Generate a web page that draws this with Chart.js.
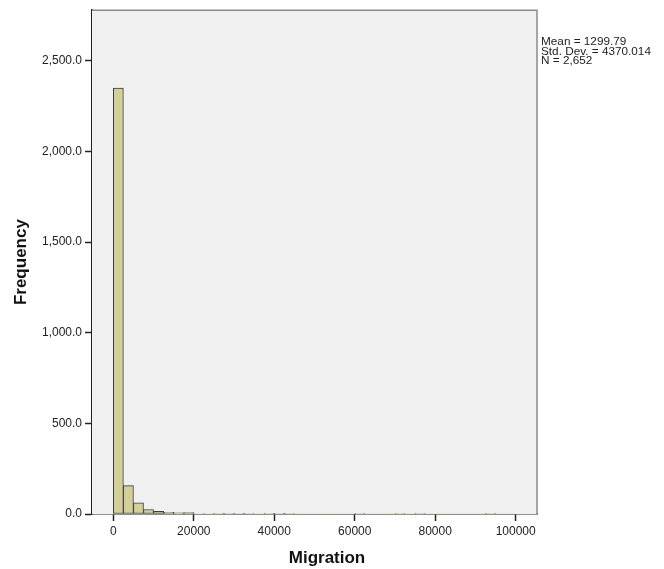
<!DOCTYPE html>
<html>
<head>
<meta charset="utf-8">
<title>Migration histogram</title>
<script src="https://cdn.jsdelivr.net/npm/chart.js@4/dist/chart.umd.min.js"></script>
<style>
  body { margin: 0; background: #fff; }
  canvas { display: block; }
</style>
</head>
<body>
<canvas id="histChart" width="664" height="569"></canvas>
<script>
// histogram bins of width 2500, starting at 0
const binWidth = 2500;
const counts = [2350, 157, 61, 25, 15, 9, 6, 8, 3, 3,
                2, 2, 1, 1, 0, 2, 2, 1, 0, 0,
                0, 0, 0, 0, 1, 0, 0, 0, 1, 0,
                1, 0, 0, 0, 0, 0, 0, 1, 0, 0];
const xTicks = [0, 20000, 40000, 60000, 80000, 100000];
const yTicks = [0, 500, 1000, 1500, 2000, 2500];
const statLines = ['Mean = 1299.79', 'Std. Dev. = 4370.014', 'N = 2,652'];

const bins = counts.map((c, i) => ({ x: i * binWidth + binWidth / 2, y: c }));

const FONT = 'Arial, "Liberation Sans", sans-serif';

// grey plot background, frame, stats box and x title
const frame = {
  id: 'frame',
  beforeDatasetsDraw(chart) {
    const { ctx, chartArea: a } = chart;
    ctx.save();
    ctx.fillStyle = '#f0f0f0';
    ctx.fillRect(a.left, a.top, a.right - a.left, a.bottom - a.top);
    ctx.restore();
  },
  afterDraw(chart) {
    const { ctx, chartArea: a } = chart;
    ctx.save();
    ctx.strokeStyle = '#8a8a8a';
    ctx.lineWidth = 1.5;
    ctx.beginPath();
    ctx.moveTo(a.left, a.top);
    ctx.lineTo(a.right, a.top);
    ctx.lineTo(a.right, a.bottom);
    ctx.stroke();

    // summary statistics, slightly widened like the original font
    ctx.fillStyle = '#222';
    ctx.font = '10.5px ' + FONT;
    ctx.textBaseline = 'alphabetic';
    ctx.translate(a.right + 4, 0);
    ctx.scale(1.12, 1);
    statLines.forEach((s, i) => ctx.fillText(s, 0, 45 + i * 9.6));
    ctx.restore();

    ctx.save();
    ctx.fillStyle = '#111';
    ctx.font = 'bold 17px ' + FONT;
    ctx.textAlign = 'center';
    ctx.textBaseline = 'middle';
    ctx.fillText('Migration', 327, 558);
    ctx.restore();
  }
};

new Chart(document.getElementById('histChart'), {
  type: 'bar',
  data: {
    datasets: [{
      data: bins,
      backgroundColor: '#d3cf98',
      borderColor: '#3c3c3c',
      borderWidth: ctx => (ctx.raw && ctx.raw.y ? 1 : 0),
      borderSkipped: false,
      barPercentage: 1,
      categoryPercentage: 1
    }]
  },
  options: {
    responsive: false,
    animation: false,
    layout: { padding: { top: 10, right: 127, bottom: 0, left: 0 } },
    plugins: { legend: { display: false }, tooltip: { enabled: false } },
    scales: {
      x: {
        type: 'linear',
        offset: false,
        min: -5300,
        max: 105300,
        afterBuildTicks: s => { s.ticks = xTicks.map(v => ({ value: v })); },
        afterFit: s => { s.height = 55; },
        grid: { offset: false, drawOnChartArea: false, tickLength: 7, tickColor: '#222', tickWidth: 1.5 },
        border: { color: '#222', width: 1.5 },
        ticks: { color: '#222', font: { family: FONT, size: 12 }, padding: 3, maxRotation: 0,
                 callback: v => String(v) }
      },
      y: {
        min: 0,
        max: 2780,
        afterBuildTicks: s => { s.ticks = yTicks.map(v => ({ value: v })); },
        afterFit: s => { s.width = 92; },
        grid: { drawOnChartArea: false, tickLength: 7, tickColor: '#222', tickWidth: 1.5 },
        border: { color: '#222', width: 1.5 },
        ticks: { color: '#222', font: { family: FONT, size: 12 }, padding: 3,
                 callback: v => v.toLocaleString('en-US', { minimumFractionDigits: 1, maximumFractionDigits: 1 }) },
        title: { display: true, text: 'Frequency', color: '#111',
                 font: { family: FONT, size: 17, weight: 'bold' }, padding: { top: 11 } }
      }
    }
  },
  plugins: [frame]
});
</script>
</body>
</html>
